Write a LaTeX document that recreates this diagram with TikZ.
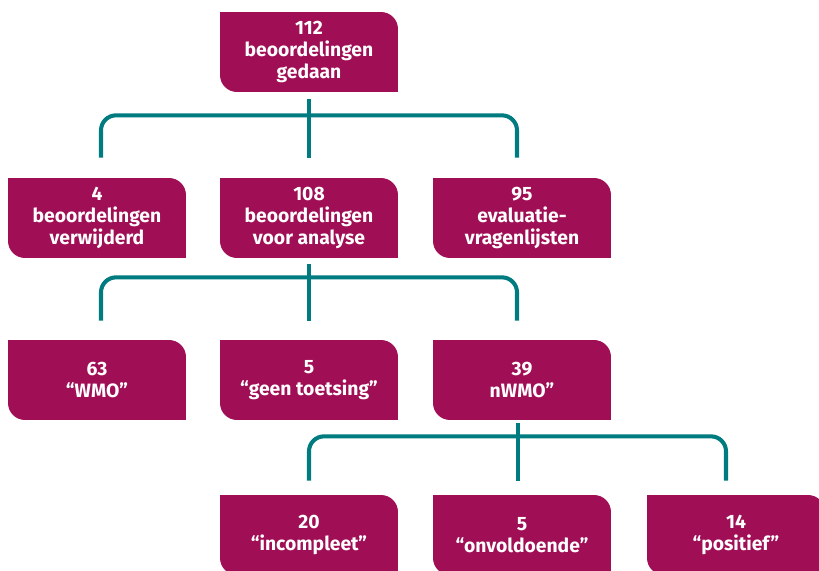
\documentclass[tikz,border=0pt]{standalone}
\usepackage{fontspec}
\setmainfont{Fira Sans}
\usepackage{xcolor}
\usepackage{tikz}
\usetikzlibrary{positioning,calc}
\definecolor{plum}{RGB}{160,14,85}
\definecolor{linkteal}{RGB}{0,123,128}

\begin{document}
\begin{tikzpicture}
  [
    x=0.02cm, y=-0.02cm,
    Box/.style={fill=plum, text=white, rounded corners=0.34cm, minimum width=3.56cm, minimum height=1.6cm,
      align=center, inner sep=0pt, font=\fontsize{11}{12.5}\selectfont\bfseries},
    Link/.style={draw=linkteal, line width=2.3pt, rounded corners=0.3cm}
  ]
  \useasboundingbox (0,0) rectangle (819,571);
  % Nodes
  \node[Box] (total) at (309,52) {112\\beoordelingen\\gedaan};
  \node[Box] (removed) at (97,218) {4\\beoordelingen\\verwijderd};
  \node[Box] (analysis) at (309,218) {108\\beoordelingen\\voor analyse};
  \node[Box] (evaluation) at (522,218) {95\\evaluatie-\\vragenlijsten};
  \node[Box] (wmo) at (97,380) {63\\“WMO”};
  \node[Box] (notest) at (309,380) {5\\“geen toetsing”};
  \node[Box] (nwmo) at (522,380) {39\\nWMO”};
  \node[Box] (incomplete) at (309,535) {20\\“incompleet”};
  \node[Box] (poor) at (522,535) {5\\“onvoldoende”};
  \node[Box] (positive) at (736,535) {14\\“positief”};
  % Sharp corners (top left, bottom right)
  \foreach \n in {total,removed,analysis,evaluation,wmo,notest,nwmo,incomplete,poor,positive}
  {
    \fill[plum] (\n.north west) rectangle ++(20,20);
    \fill[plum] (\n.south east) rectangle ++(-20,-20);
  }
  % Lines
  \draw[Link] ($(total.south)+(0,7)$) -- ($(analysis.north)+(0,-20)$);
  \draw[Link] ($(removed.north)+(4,-20)$) |- ($(total.south)+(0,23)$) -| ($(evaluation.north)+(-5,-20)$);
  \draw[Link] ($(analysis.south)+(0,6)$) -- ($(notest.north)+(0,-19)$);
  \draw[Link] ($(wmo.north)+(4,-19)$) |- ($(analysis.south)+(0,19)$) -| ($(nwmo.north)+(-5,-19)$);
  \draw[Link] ($(nwmo.south)+(-4,3)$) -- ($(poor.north)+(-4,-14)$);
  \draw[Link] ($(incomplete.north)+(0,-14)$) |- ($(nwmo.south)+(0,16)$) -| ($(positive.north)+(-10,-14)$);
\end{tikzpicture}
\end{document}
